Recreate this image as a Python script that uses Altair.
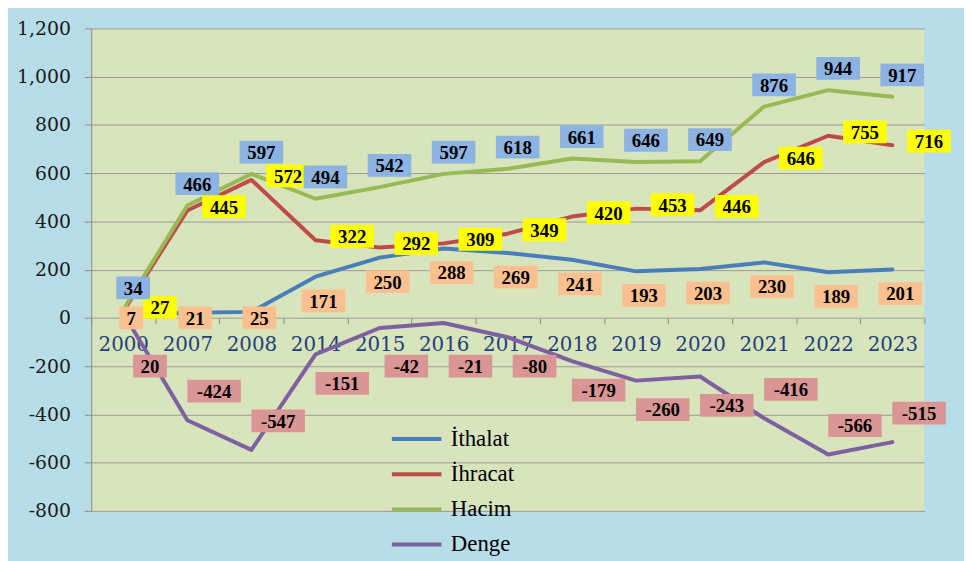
import altair as alt
import pandas as pd

years = ["2000", "2007", "2008", "2014", "2015", "2016", "2017", "2018", "2019", "2020", "2021", "2022", "2023"]
ithalat = [7, 21, 25, 171, 250, 288, 269, 241, 193, 203, 230, 189, 201]
ihracat = [27, 445, 572, 322, 292, 309, 349, 420, 453, 446, 646, 755, 716]
hacim = [34, 466, 597, 494, 542, 597, 618, 661, 646, 649, 876, 944, 917]
denge = [20, -424, -547, -151, -42, -21, -80, -179, -260, -243, -416, -566, -515]
series = ["İthalat", "İhracat", "Hacim", "Denge"]
y_ticks = [-800, -600, -400, -200, 0, 200, 400, 600, 800, 1000, 1200]

line_colors = ["#4a7ebb", "#be4b48", "#98b954", "#7d60a0"]
box_colors = ["#fac090", "#ffff00", "#8db3e2", "#d99694"]
# label placement rules (data-unit anchor + pixel offsets) per series
label_rule = [
    "max(datum.value - 100, 0)",
    "datum.value",
    "datum.value",
    "datum.value < -400 ? datum.value + 120 : min(datum.value - 120, -200)",
]
label_dx = [8, 37, 10, 27]
label_dy = [0, -4, -22, 0]

rows = []
for s, vals in zip(series, [ithalat, ihracat, hacim, denge]):
    for yr, v in zip(years, vals):
        rows.append({"year": yr, "series": s, "value": v, "label": str(v)})
df = pd.DataFrame(rows)


def box_path(t):
    w = (10 * len(t) + 14) / 2
    return f"M{-w},-11.5H{w}V11.5H{-w}Z"


df["box"] = df["label"].map(box_path)

W, H = 841, 487
x_enc = alt.X(
    "year:N", sort=years,
    scale=alt.Scale(type="band", paddingInner=0, paddingOuter=0),
    axis=alt.Axis(
        title=None, orient="bottom", offset=-H * 800 / 2000, labelAngle=0,
        labelFont="DejaVu Serif", labelFontSize=20, labelColor="#1f3f7a",
        tickBand="extent", tickSize=6, tickColor="#8c8c8c", domain=False,
        grid=False, labelPadding=11,
    ),
)
y_scale = alt.Scale(domain=[-800, 1200], nice=False, zero=False)
y_axis = alt.Axis(
    title=None, values=y_ticks,
    labelExpr="datum.value < 0 ? '-' + format(-datum.value, ',') : format(datum.value, ',')",
    labelFont="DejaVu Serif", labelFontSize=19, labelColor="#1a1a1a",
    tickSize=7, tickColor="#8c8c8c", gridColor="#9a9a9a", gridWidth=1,
    domainColor="#8c8c8c", labelPadding=14,
)

base = alt.Chart(df)

lines = base.mark_line(strokeWidth=4, strokeJoin="round", strokeCap="round").encode(
    x=x_enc, y=alt.Y("value:Q", scale=y_scale, axis=y_axis),
    color=alt.Color(
        "series:N",
        scale=alt.Scale(domain=series, range=line_colors),
        sort=series,
        legend=alt.Legend(
            title=None, orient="none", legendX=336, legendY=403,
            symbolType="M-44,0H6", symbolSize=4, symbolStrokeWidth=4,
            labelFont="Liberation Serif", labelFontSize=23, labelColor="black",
            rowPadding=11.5, labelOffset=4, padding=0,
        ),
    ),
)

layers = [lines]
for i, s in enumerate(series):
    sub = base.transform_filter(alt.datum.series == s).transform_calculate(label_y=label_rule[i])
    y_lab = alt.Y("label_y:Q", scale=y_scale, axis=y_axis)
    boxes = sub.mark_point(
        filled=True, size=4, opacity=1, strokeWidth=0, fill=box_colors[i],
        xOffset=label_dx[i], yOffset=label_dy[i],
    ).encode(x=x_enc, y=y_lab, shape=alt.Shape("box:N", scale=None, legend=None))
    texts = sub.mark_text(
        font="Liberation Serif", fontSize=19, fontWeight="bold", color="black",
        xOffset=label_dx[i], yOffset=label_dy[i] + 1, baseline="middle", align="center",
    ).encode(x=x_enc, y=y_lab, text="label:N")
    layers += [boxes, texts]

chart = alt.layer(*layers).properties(
    width=W, height=H,
    autosize=alt.AutoSizeParams(type="none"),
    padding={"left": 84, "top": 18, "right": 40, "bottom": 50},
    background="#b7dde8",
).configure_view(fill="#d8e4bc", stroke=None)

chart.save("out.html", embed_options={"renderer": "svg", "actions": False})
